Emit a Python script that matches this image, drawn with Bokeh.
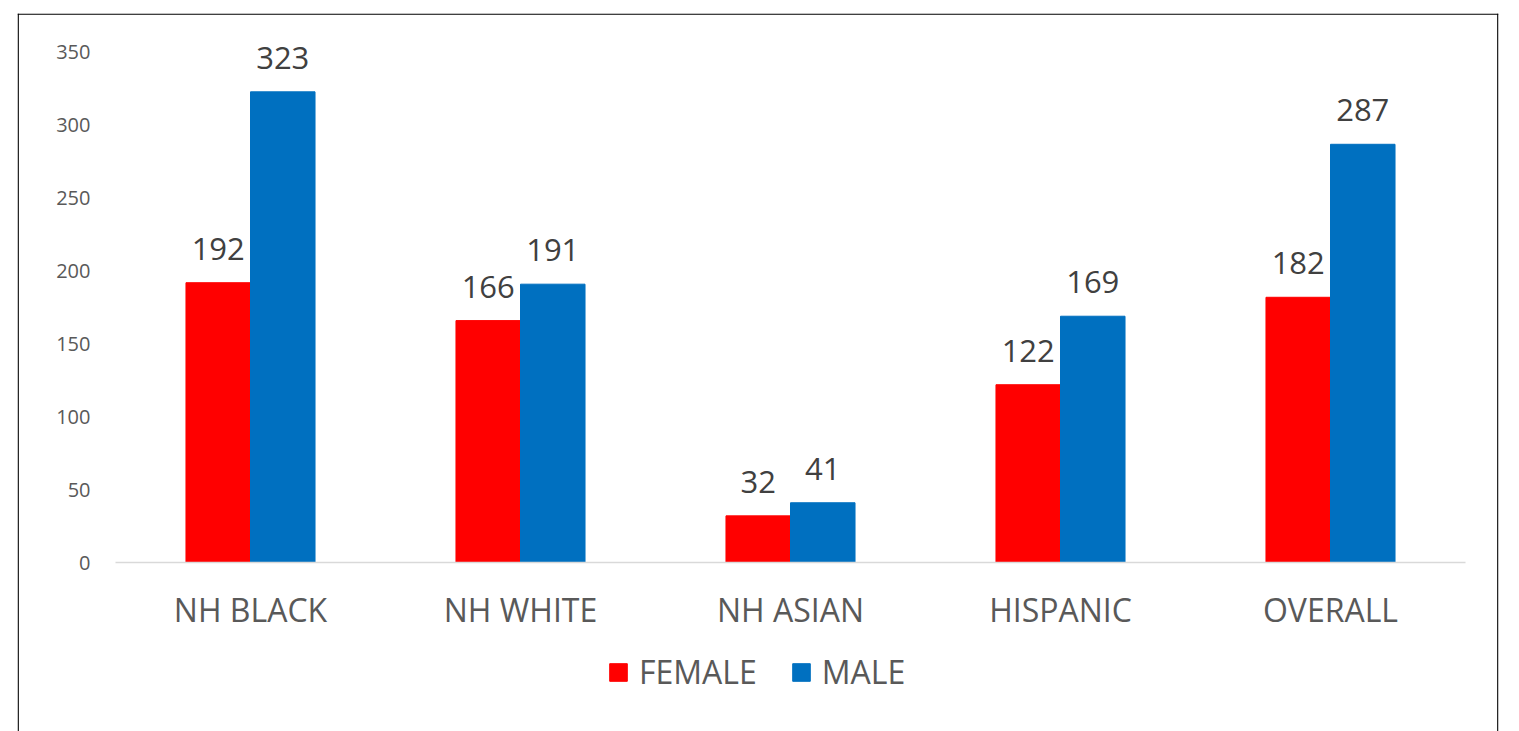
from bokeh.plotting import figure
from bokeh.models import ColumnDataSource, Range1d, LabelSet, Legend, LegendItem, FixedTicker, Span
from bokeh.transform import dodge
from bokeh.core.properties import value
from bokeh.embed import file_html
from bokeh.resources import INLINE

categories = ["NH BLACK", "NH WHITE", "NH ASIAN", "HISPANIC", "OVERALL"]
female = [192, 166, 32, 122, 182]
male = [323, 191, 41, 169, 287]
y_ticks = [0, 50, 100, 150, 200, 250, 300, 350]

FONT = "Open Sans"
RED = "#FF0000"
BLUE = "#0070C0"

xpos = [i + 1 for i in range(len(categories))]
src = ColumnDataSource(dict(x=xpos, female=female, male=male,
                            flab=[str(v) for v in female], mlab=[str(v) for v in male]))

# layout geometry (pixels): category slot 270 px, 72.86 px per 50 units
slot = 270.0
ppu = 72.86 / 50.0
x_lo = 0.5 - 98 / slot
x_hi = len(categories) + 0.5 + 33 / slot
y_hi = 549 / ppu
y_lo = -169 / ppu

p = figure(x_range=Range1d(x_lo, x_hi), y_range=Range1d(y_lo, y_hi),
           width=1507, height=731, output_backend="svg", toolbar_location=None,
           min_border_left=17, min_border_right=9, min_border_top=13, min_border_bottom=0)
p.outline_line_color = None
p.xgrid.grid_line_color = None
p.ygrid.grid_line_color = None

# chart border (left, right, top; bottom is cut off in the reference)
for loc, dim in ((x_lo + 0.7 / slot, "height"), (x_hi - 0.7 / slot, "height"), (y_hi - 0.7 / ppu, "width")):
    p.add_layout(Span(location=loc, dimension=dim, line_color="#000000", line_width=1.3))

bw = 0.239
off = 0.1195
rf = p.vbar(x=dodge("x", -off), top="female", width=bw, source=src,
            fill_color=RED, line_color=RED)
rm = p.vbar(x=dodge("x", off), top="male", width=bw, source=src,
            fill_color=BLUE, line_color=BLUE)

for col, lab, o in (("female", "flab", -off), ("male", "mlab", off)):
    p.add_layout(LabelSet(x=dodge("x", o), y=col, text=lab, source=src,
                          y_offset=23, text_align="center", text_baseline="alphabetic",
                          text_font=value(FONT), text_font_size="31px", text_color="#404040"))

p.yaxis.fixed_location = 0.5
p.yaxis.ticker = FixedTicker(ticks=y_ticks)
p.yaxis.axis_line_color = None
p.yaxis.major_tick_line_color = None
p.yaxis.minor_tick_line_color = None
p.yaxis.major_label_text_font = FONT
p.yaxis.major_label_text_font_size = "20px"
p.yaxis.major_label_text_color = "#595959"
p.yaxis.major_label_standoff = 19

p.xaxis.fixed_location = 0
p.xaxis.bounds = (0.5, len(categories) + 0.5)
p.xaxis.ticker = FixedTicker(ticks=xpos)
p.xaxis.major_label_overrides = {x: c for x, c in zip(xpos, categories)}
p.xaxis.axis_line_color = "#d9d9d9"
p.xaxis.axis_line_width = 1.5
p.xaxis.major_tick_line_color = None
p.xaxis.minor_tick_line_color = None
p.xaxis.major_label_text_font = FONT
p.xaxis.major_label_text_font_size = "32px"
p.xaxis.major_label_text_color = "#595959"
p.xaxis.major_label_standoff = 19

legend = Legend(items=[LegendItem(label="FEMALE", renderers=[rf]),
                       LegendItem(label="MALE", renderers=[rm])],
                location=(590, 38), orientation="horizontal",
                glyph_width=22, glyph_height=22, label_standoff=10, spacing=33,
                padding=0, margin=0, border_line_color=None, background_fill_alpha=0,
                label_text_font=FONT, label_text_font_size="32px", label_text_color="#595959")
p.add_layout(legend, "center")

open("out.html", "w").write(file_html(p, INLINE))
